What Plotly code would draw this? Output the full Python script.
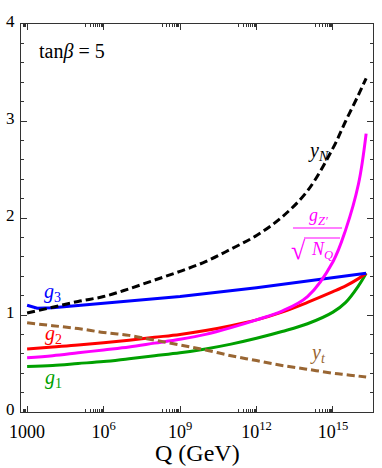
import plotly.graph_objects as go

# renormalisation scale Q (GeV) and couplings
Q = [1e3, 1e4, 1e5, 1e6, 1e7, 1e8, 1e9, 1e10, 1e11, 1e12, 1e13, 1e14, 1e15, 3.16e15, 1e16, 2e16]
yN = [1.02, 1.08, 1.14, 1.19, 1.27, 1.36, 1.45, 1.55, 1.68, 1.82, 2.01, 2.28, 2.72, 3.00, 3.27, 3.44]
gZ = [0.56, 0.58, 0.61, 0.64, 0.67, 0.71, 0.75, 0.80, 0.87, 0.95, 1.04, 1.19, 1.55, 1.88, 2.35, 2.87]
g2 = [0.65, 0.67, 0.69, 0.715, 0.74, 0.77, 0.80, 0.84, 0.89, 0.95, 1.03, 1.13, 1.24, 1.30, 1.375, 1.43]
g1 = [0.47, 0.48, 0.50, 0.52, 0.55, 0.58, 0.61, 0.65, 0.70, 0.76, 0.83, 0.91, 1.03, 1.13, 1.30, 1.43]
yt = [0.92, 0.89, 0.86, 0.82, 0.79, 0.74, 0.69, 0.64, 0.58, 0.53, 0.48, 0.44, 0.40, 0.385, 0.37, 0.36]

Q3 = [1e3, 2.5e3, 1e4, 1e6, 1e9, 1e12, 1e15, 2e16]
g3 = [1.10, 1.07, 1.075, 1.12, 1.19, 1.28, 1.38, 1.43]

xticks = [1e3, 1e6, 1e9, 1e12, 1e15]
xticktext = ["1000", "10<sup>6</sup>", "10<sup>9</sup>", "10<sup>12</sup>", "10<sup>15</sup>"]
minor_x = [m * 10 ** e for e in (2, 5, 8, 11, 14) for m in range(2, 10)]

SERIF = "Liberation Serif"
BROWN = "#996633"
GREEN = "#00A000"
MAG = "#FF00FF"

fig = go.Figure()
fig.add_trace(go.Scatter(x=Q, y=g1, mode="lines", line=dict(color=GREEN, width=3, shape="spline")))
fig.add_trace(go.Scatter(x=Q, y=g2, mode="lines", line=dict(color="#FF0000", width=3, shape="spline")))
fig.add_trace(go.Scatter(x=Q3, y=g3, mode="lines", line=dict(color="#0000FF", width=3)))
fig.add_trace(go.Scatter(x=Q, y=gZ, mode="lines", line=dict(color=MAG, width=3, shape="spline")))
fig.add_trace(go.Scatter(x=Q, y=yt, mode="lines", line=dict(color=BROWN, width=3, dash="8px,4px", shape="spline")))
fig.add_trace(go.Scatter(x=Q, y=yN, mode="lines", line=dict(color="black", width=3, dash="8px,4px", shape="spline")))
# carrier for the minor-tick axis
fig.add_trace(go.Scatter(x=[1e3], y=[0], xaxis="x2", mode="markers", marker=dict(opacity=0), hoverinfo="skip"))

L, R, T, B = 21, 373, 24, 412


def px(x):
    return (x - L) / (R - L)


def py(y):
    return (B - y) / (B - T)


def label(x, y, text, color, size=20):
    fig.add_annotation(x=px(x), y=py(y), xref="paper", yref="paper", text=text, showarrow=False,
                       font=dict(family=SERIF, size=size, color=color), xanchor="center", yanchor="middle")


label(72, 52, "tan<i>β</i> = 5", "black", 20)
label(52, 292, "<i>g</i><sub>3</sub>", "#0000FF")
label(53, 334, "<i>g</i><sub>2</sub>", "#FF0000")
label(53, 378, "<i>g</i><sub>1</sub>", GREEN)
label(318, 151, "<i>y</i><sub><i>N</i></sub>", "black")
label(318, 353, "<i>y</i><sub><i>t</i></sub>", BROWN)
label(197, 453, "Q (GeV)", "black", 24)
# g_Z' / sqrt(N_Q)
label(318, 216, "<i>g</i><sub><i>Z′</i></sub>", MAG, 18)
label(298, 251, "√", MAG, 26)
label(322, 251, "<i>N</i><sub><i>Q</i></sub>", MAG, 18)
fig.add_shape(type="line", xref="paper", yref="paper", x0=px(293), x1=px(342), y0=py(228), y1=py(228),
              line=dict(color=MAG, width=1.2))
fig.add_shape(type="line", xref="paper", yref="paper", x0=px(304), x1=px(340), y0=py(238), y1=py(238),
              line=dict(color=MAG, width=1.2))

axis_common = dict(showline=True, linecolor="#333333", linewidth=1, mirror="ticks", ticks="inside",
                   tickcolor="#333333", showgrid=False, zeroline=False, automargin=False)

fig.update_layout(
    width=382, height=468,
    margin=dict(l=L, r=382 - R, t=T, b=468 - B),
    paper_bgcolor="white", plot_bgcolor="white",
    showlegend=False,
    xaxis=dict(type="log", range=[2.76, 16.57], tickvals=xticks, ticktext=xticktext, ticklen=6,
               ticklabelstandoff=3,
               tickfont=dict(family=SERIF, size=18, color="black"), **axis_common),
    xaxis2=dict(type="log", range=[2.76, 16.57], overlaying="x", side="bottom", tickvals=minor_x,
                ticks="inside", ticklen=3, tickcolor="#333333", showticklabels=False, showgrid=False,
                zeroline=False, showline=False, mirror="ticks", automargin=False),
    yaxis=dict(range=[0, 4], tickvals=[0, 1, 2, 3, 4], ticklen=6, ticklabelstandoff=2, ticklabelshift=-3,
               tickfont=dict(family=SERIF, size=17, color="black"),
               minor=dict(dtick=0.2, ticks="inside", ticklen=3, tickcolor="#333333"),
               **axis_common),
)

# drop the default page margin so the figure sits at the window's corner
fig.write_html("out.html", config={"displayModeBar": False},
               post_script="document.body.style.margin='0';")
